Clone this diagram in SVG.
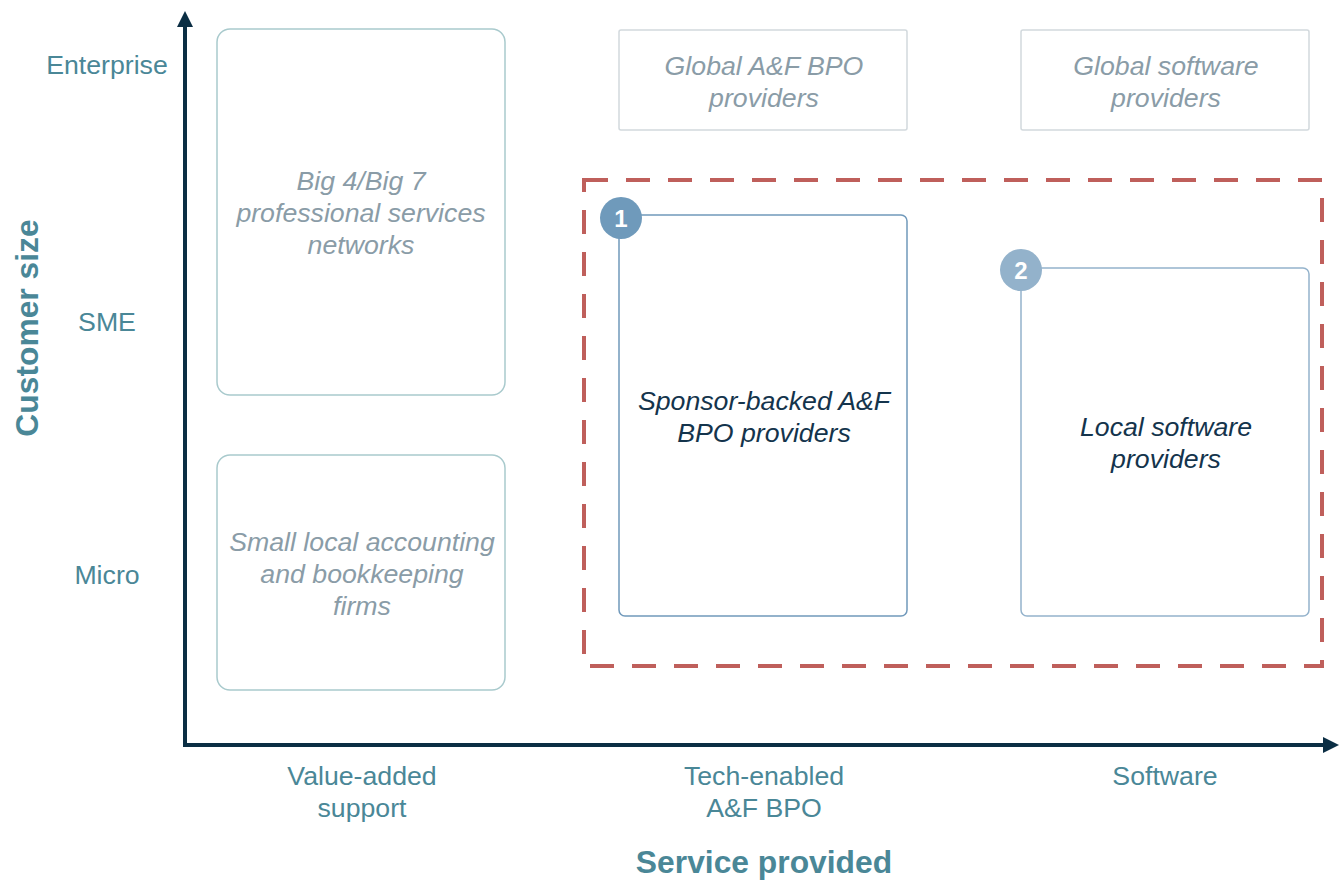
<svg xmlns="http://www.w3.org/2000/svg" width="1344" height="880" viewBox="0 0 1344 880">
<style>
.lbl{font-family:"Liberation Sans",Arial,sans-serif;font-size:26.7px;fill:#4a8797;text-anchor:middle}
.ttl{font-family:"Liberation Sans",Arial,sans-serif;font-size:31.8px;font-weight:bold;fill:#4a8797;text-anchor:middle}
.gt{font-family:"Liberation Sans",Arial,sans-serif;font-size:26.7px;font-style:italic;fill:#8a9ca7;text-anchor:middle}
.dt{font-family:"Liberation Sans",Arial,sans-serif;font-size:26.7px;font-style:italic;fill:#14344c;text-anchor:middle}
.num{font-family:"Liberation Sans",Arial,sans-serif;font-size:24px;font-weight:bold;fill:#fff;text-anchor:middle}
.tealbox{fill:#fff;stroke:#a9cacd;stroke-width:1.5}
.graybox{fill:#fff;stroke:#d2d9dd;stroke-width:1.5}
.bluebox{fill:#fff;stroke:#7099bb;stroke-width:1.5}
.bluebox2{fill:#fff;stroke:#94b3cc;stroke-width:1.5}
</style>
<rect width="1344" height="880" fill="#fff"/>
<g id="axes">
<line x1="185" y1="745" x2="185" y2="24" stroke="#0b2e44" stroke-width="4"/>
<polygon points="185,11 177,27 193,27" fill="#0b2e44"/>
<line x1="183" y1="745" x2="1326" y2="745" stroke="#0b2e44" stroke-width="4"/>
<polygon points="1339,745 1323,737 1323,753" fill="#0b2e44"/>
</g>
<g id="axis-labels">
<text class="lbl" x="107" y="74">Enterprise</text>
<text class="lbl" x="107" y="331">SME</text>
<text class="lbl" x="107" y="584">Micro</text>
<text class="lbl" x="362" y="785">Value-added</text>
<text class="lbl" x="362" y="817">support</text>
<text class="lbl" x="764" y="785">Tech-enabled</text>
<text class="lbl" x="764" y="817">A&amp;F BPO</text>
<text class="lbl" x="1165" y="785">Software</text>
<text class="ttl" x="764" y="873">Service provided</text>
<text class="ttl" transform="translate(38,328) rotate(-90)" x="0" y="0">Customer size</text>
</g>
<g id="node-big4">
<rect class="tealbox" x="217" y="29" width="288" height="366" rx="13"/>
<text class="gt" x="361" y="190">Big 4/Big 7</text>
<text class="gt" x="361" y="222">professional services</text>
<text class="gt" x="361" y="254">networks</text>
</g>
<g id="node-small">
<rect class="tealbox" x="217" y="455" width="288" height="235" rx="13"/>
<text class="gt" x="362" y="551">Small local accounting</text>
<text class="gt" x="362" y="583">and bookkeeping</text>
<text class="gt" x="362" y="615">firms</text>
</g>
<g id="node-global-bpo">
<rect class="graybox" x="619" y="30" width="288" height="100" rx="2"/>
<text class="gt" x="764" y="75">Global A&amp;F BPO</text>
<text class="gt" x="764" y="107">providers</text>
</g>
<g id="node-global-sw">
<rect class="graybox" x="1021" y="30" width="288" height="100" rx="2"/>
<text class="gt" x="1166" y="75">Global software</text>
<text class="gt" x="1166" y="107">providers</text>
</g>
<g id="highlight">
<rect x="584" y="180" width="738" height="486" fill="none" stroke="#bf5f5b" stroke-width="4" stroke-dasharray="24 18"/>
</g>
<g id="node-sponsor">
<rect class="bluebox" x="619" y="215" width="288" height="401" rx="6"/>
<text class="dt" x="764" y="410">Sponsor-backed A&amp;F</text>
<text class="dt" x="764" y="442">BPO providers</text>
<circle cx="621" cy="218" r="21" fill="#6f9abb"/>
<text class="num" x="621" y="227">1</text>
</g>
<g id="node-local-sw">
<rect class="bluebox2" x="1021" y="268" width="288" height="348" rx="6"/>
<text class="dt" x="1166" y="436">Local software</text>
<text class="dt" x="1166" y="468">providers</text>
<circle cx="1021" cy="270" r="21" fill="#93b2cb"/>
<text class="num" x="1021" y="279">2</text>
</g>
</svg>
